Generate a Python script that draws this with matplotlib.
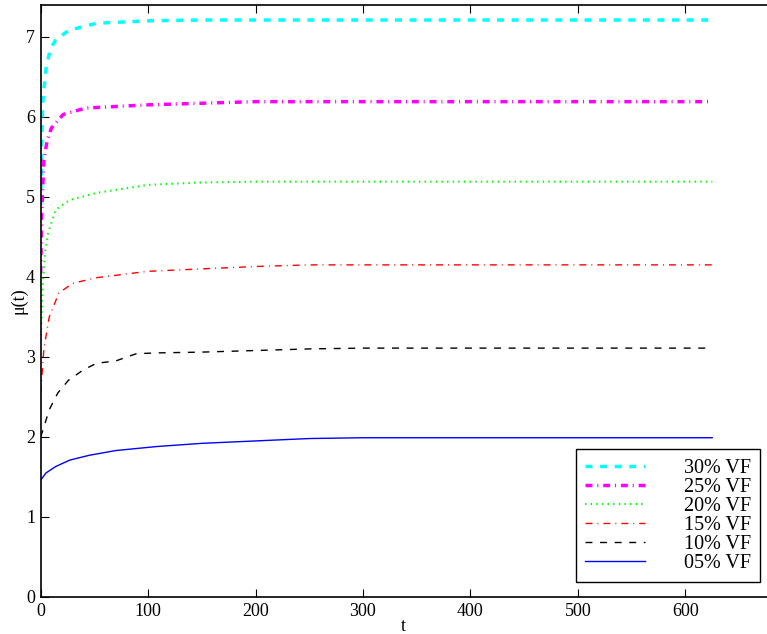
import numpy as np
import matplotlib
matplotlib.use("Agg")
import matplotlib.pyplot as plt

plt.rcParams['font.family'] = ['Liberation Serif', 'DejaVu Serif']
plt.rcParams['font.size'] = 13

# time samples (t) and mu(t) for each fibre volume fraction
t_05 = [0, 5, 14, 27, 45, 70, 108, 150, 200, 250, 300, 400, 500, 625]
mu_05 = [1.46, 1.55, 1.63, 1.71, 1.77, 1.83, 1.88, 1.92, 1.95, 1.98, 1.99, 1.99, 1.99, 1.99]

t_10 = [0, 2, 8, 16, 26, 40, 52, 70, 89, 108, 150, 200, 250, 300, 400, 500, 625]
mu_10 = [2.0, 2.08, 2.34, 2.55, 2.71, 2.84, 2.92, 2.95, 3.04, 3.05, 3.06, 3.08, 3.1, 3.11, 3.11, 3.11, 3.11]

t_15 = [0, 3, 8, 17, 30, 52, 100, 150, 200, 250, 300, 400, 500, 625]
mu_15 = [2.55, 3.1, 3.5, 3.8, 3.92, 3.99, 4.07, 4.1, 4.13, 4.15, 4.15, 4.15, 4.15, 4.15]

t_20 = [0, 2, 4, 7, 14, 27, 52, 100, 150, 200, 300, 400, 500, 625]
mu_20 = [3.2, 3.9, 4.3, 4.55, 4.84, 4.96, 5.05, 5.15, 5.18, 5.19, 5.19, 5.19, 5.19, 5.19]

t_25 = [0, 1, 3, 6, 10, 21, 42, 100, 150, 200, 300, 400, 500, 625]
mu_25 = [4.05, 4.8, 5.46, 5.7, 5.86, 6.03, 6.11, 6.15, 6.17, 6.19, 6.19, 6.19, 6.19, 6.19]

t_30 = [0, 1, 2, 5, 9, 14, 26, 52, 100, 150, 200, 300, 400, 500, 625]
mu_30 = [4.9, 5.7, 6.2, 6.6, 6.85, 6.96, 7.08, 7.17, 7.2, 7.21, 7.21, 7.21, 7.21, 7.21, 7.21]

labels = ['30% VF', '25% VF', '20% VF', '15% VF', '10% VF', '05% VF']

fig = plt.figure(figsize=(7.67, 6.34), dpi=100)
ax = fig.add_axes([0.053, 0.0584, 0.947, 0.934])

ax.plot(t_30, mu_30, color='cyan', lw=2.5, dashes=(2, 2.2), label=labels[0])
ax.plot(t_25, mu_25, color='magenta', lw=2.5, dashes=(2, 1.4, 0.3, 1.4), label=labels[1])
ax.plot(t_20, mu_20, color='#00ff00', lw=1.5, dashes=(0.7, 2), label=labels[2])
ax.plot(t_15, mu_15, color='red', lw=1.0, dashes=(5, 3.6, 0.7, 3.6), label=labels[3])
ax.plot(t_10, mu_10, color='black', lw=1.0, dashes=(5, 5.5), label=labels[4])
ax.plot(t_05, mu_05, color='blue', lw=1.0, label=labels[5])

ax.set_xlim(0, 676)
ax.set_ylim(0, 7.4)
ax.set_xticks(np.arange(0, 700, 100))
ax.set_yticks(np.arange(0, 8, 1))
ax.tick_params(direction='in', length=6, width=0.8, top=True, right=False, pad=4)
ax.spines['right'].set_visible(False)
for s in ['left', 'bottom', 'top']:
    ax.spines[s].set_linewidth(1.2)

ax.set_xlabel('t', labelpad=-1)
ax.set_ylabel('μ(t)', labelpad=-1)

leg = ax.legend(loc='lower right', bbox_to_anchor=(0.990, 0.025), frameon=True,
                fancybox=False, framealpha=1, edgecolor='black', fontsize=14.5,
                handlelength=3.0, handletextpad=1.9, labelspacing=0.0,
                borderpad=0.45, borderaxespad=0)
leg.get_frame().set_linewidth(1.0)

fig.savefig('out.png', dpi=100)
